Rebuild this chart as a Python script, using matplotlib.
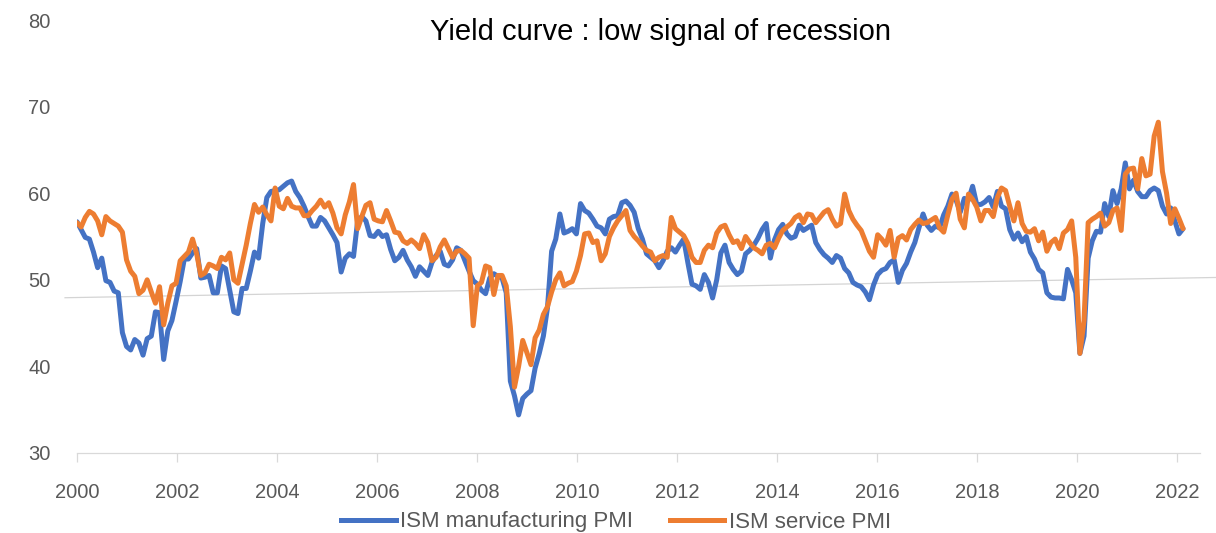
import numpy as np
import matplotlib
matplotlib.use("Agg")
import matplotlib.pyplot as plt
from matplotlib.lines import Line2D

plt.rcParams['font.family'] = ['Liberation Sans', 'DejaVu Sans']

title = "Yield curve : low signal of recession"
series_names = ["ISM manufacturing PMI", "ISM service PMI"]
year_labels = ["2000", "2002", "2004", "2006", "2008", "2010",
               "2012", "2014", "2016", "2018", "2020", "2022"]
y_ticks = [30, 40, 50, 60, 70, 80]

# Monthly values, Jan 2000 - May 2022
manufacturing = [
    56.7, 55.8, 54.9, 54.7, 53.2, 51.4, 52.5, 49.9, 49.7, 48.7, 48.5, 43.9,  # 2000
    42.3, 41.9, 43.1, 42.7, 41.3, 43.2, 43.5, 46.3, 46.2, 40.8, 44.1, 45.3,  # 2001
    47.5, 49.8, 52.4, 52.4, 53.1, 53.6, 50.2, 50.3, 50.5, 48.5, 48.5, 51.6,  # 2002
    51.3, 48.8, 46.3, 46.1, 49.0, 49.0, 51.0, 53.2, 52.5, 56.5, 59.5, 60.2,  # 2003
    60.3, 60.4, 60.8, 61.2, 61.4, 60.2, 59.5, 58.5, 57.3, 56.2, 56.2, 57.2,  # 2004
    56.8, 56.0, 55.2, 54.3, 50.9, 52.5, 53.0, 52.7, 56.8, 57.3, 56.8, 55.1,  # 2005
    55.0, 55.6, 55.0, 55.2, 53.5, 52.2, 52.6, 53.4, 52.3, 51.5, 50.4, 51.5,  # 2006
    51.0, 50.5, 52.0, 52.8, 53.3, 51.8, 51.6, 52.3, 53.7, 53.4, 52.2, 51.0,  # 2007
    49.9, 49.5, 48.8, 48.4, 50.2, 50.7, 50.4, 50.2, 48.5, 38.3, 36.6, 34.4,  # 2008
    36.3, 36.8, 37.2, 39.8, 41.5, 43.5, 46.8, 53.3, 54.7, 57.6, 55.4, 55.6,  # 2009
    55.9, 55.3, 58.8, 58.0, 57.7, 57.0, 56.2, 56.0, 55.3, 57.0, 57.3, 57.4,  # 2010
    58.9, 59.1, 58.6, 57.8, 55.9, 54.7, 53.0, 52.6, 52.2, 51.4, 52.2, 53.3,  # 2011
    53.7, 53.2, 54.0, 54.7, 52.0, 49.5, 49.3, 48.9, 50.6, 49.7, 47.9, 50.0,  # 2012
    53.1, 54.0, 52.0, 51.2, 50.6, 51.0, 53.0, 53.4, 54.0, 54.8, 55.8, 56.5,  # 2013
    52.5, 54.6, 55.8, 56.4, 55.3, 54.8, 55.0, 56.3, 55.7, 56.0, 56.3, 54.3,  # 2014
    53.5, 52.9, 52.5, 52.0, 52.8, 52.5, 51.3, 50.8, 49.7, 49.4, 49.2, 48.6,  # 2015
    47.7, 49.4, 50.6, 51.1, 51.3, 52.0, 52.3, 49.7, 51.1, 51.9, 53.2, 54.3,  # 2016
    56.0, 57.6, 56.3, 55.7, 56.2, 56.0, 57.5, 58.5, 59.9, 59.2, 57.8, 59.4,  # 2017
    59.2, 60.8, 58.7, 58.7, 59.0, 59.5, 58.4, 60.2, 58.5, 58.2, 55.8, 54.7,  # 2018
    55.4, 54.4, 55.0, 53.2, 52.4, 51.2, 50.8, 48.5, 48.0, 47.9, 47.9, 47.8,  # 2019
    51.2, 50.0, 48.5, 41.5, 43.5, 52.5, 54.5, 55.6, 55.5, 58.8, 57.3, 60.3,  # 2020
    58.8, 60.5, 63.5, 60.5, 61.5, 60.2, 59.6, 59.6, 60.3, 60.6, 60.3, 58.5,  # 2021
    57.6, 58.3, 56.8, 55.3, 55.9,                                            # 2022
]

services = [
    56.6, 56.1, 57.2, 57.9, 57.6, 56.8, 55.2, 57.3, 56.8, 56.5, 56.2, 55.5,  # 2000
    52.3, 51.0, 50.4, 48.4, 48.8, 50.0, 48.6, 47.3, 49.2, 44.8, 47.3, 49.3,  # 2001
    49.6, 52.2, 52.7, 53.2, 54.7, 53.0, 50.5, 50.8, 51.8, 51.6, 51.3, 52.6,  # 2002
    52.3, 53.1, 50.0, 49.6, 51.8, 54.0, 56.5, 58.7, 57.8, 58.4, 57.5, 56.8,  # 2003
    60.6, 58.5, 58.2, 59.4, 58.5, 58.3, 58.3, 57.4, 57.4, 58.0, 58.5, 59.2,  # 2004
    58.4, 58.9, 57.7, 56.0, 55.3, 57.5, 59.0, 61.0, 55.9, 57.3, 58.6, 58.9,  # 2005
    57.0, 56.8, 56.7, 58.0, 56.8, 55.5, 55.4, 54.5, 54.2, 54.6, 54.2, 53.6,  # 2006
    55.2, 54.3, 52.2, 52.6, 53.8, 54.6, 53.6, 52.6, 53.3, 53.4, 53.0, 52.5,  # 2007
    44.7, 49.3, 49.7, 51.6, 51.4, 48.3, 50.5, 50.5, 49.3, 44.6, 37.6, 40.0,  # 2008
    43.0, 41.6, 40.2, 43.3, 44.2, 46.0, 46.9, 48.6, 50.0, 50.8, 49.3, 49.6,  # 2009
    49.8, 51.0, 52.8, 55.3, 55.4, 54.3, 54.5, 52.2, 53.0, 55.0, 56.0, 56.8,  # 2010
    57.4, 58.0, 55.7, 55.0, 54.5, 53.9, 53.4, 53.2, 52.2, 52.6, 52.8, 52.6,  # 2011
    57.2, 55.9, 55.5, 55.1, 54.2, 52.6, 52.0, 52.0, 53.4, 54.0, 53.7, 55.4,  # 2012
    56.1, 56.3, 55.2, 54.3, 54.5, 53.6, 55.0, 54.3, 53.7, 53.4, 53.0, 54.0,  # 2013
    54.2, 53.7, 54.8, 55.7, 56.1, 56.5, 57.2, 57.5, 56.6, 57.6, 57.5, 56.6,  # 2014
    57.2, 57.8, 58.1, 57.0, 56.2, 56.5, 59.9, 58.0, 57.0, 56.3, 55.7, 54.5,  # 2015
    53.3, 52.6, 55.2, 54.7, 54.0, 55.7, 52.6, 54.8, 55.1, 54.6, 55.8, 56.4,  # 2016
    56.9, 56.5, 56.6, 56.9, 57.2, 56.0, 55.5, 57.5, 59.3, 60.0, 57.0, 56.0,  # 2017
    59.9, 59.3, 58.4, 56.8, 58.0, 58.0, 57.3, 59.5, 60.6, 60.3, 58.5, 56.8,  # 2018
    58.9, 56.5, 55.6, 55.5, 55.9, 54.5, 55.5, 53.3, 54.3, 54.7, 53.6, 55.4,  # 2019
    55.8, 56.8, 52.6, 41.5, 45.3, 56.6, 57.0, 57.3, 57.7, 56.2, 56.6, 58.0,  # 2020
    58.3, 55.7, 62.2, 62.8, 62.9, 60.5, 64.0, 62.0, 62.2, 66.6, 68.2, 62.5,  # 2021
    60.0, 56.5, 58.2, 57.1, 55.9,                                            # 2022
]

# thin grey reference line (start / end level)
ref_start, ref_end = 47.93, 50.27

BLUE = "#4472C4"
ORANGE = "#ED7D31"
GREY_TXT = "#595959"

W, H = 1216, 533
fig = plt.figure(figsize=(W / 100, H / 100), dpi=100)
ax = fig.add_axes([77 / W, 80 / H, (1200 - 77) / W, (453 - 20) / H])

months = np.arange(len(manufacturing))
months_per_label_year = 12.115  # spacing of the category-axis labels
tick_pos = np.arange(len(year_labels)) * 2 * months_per_label_year

ax.plot([-2.9, 276.0], [ref_start, ref_end], color="#D4D4D4", lw=0.9,
        clip_on=False, zorder=1)
ax.plot(months, manufacturing, color=BLUE, lw=3.6, solid_joinstyle="round",
        solid_capstyle="round", zorder=3)
ax.plot(months, services, color=ORANGE, lw=3.6, solid_joinstyle="round",
        solid_capstyle="round", zorder=4)

ax.set_xlim(0, 272.1)
ax.set_ylim(30, 80)
ax.set_yticks(y_ticks)
ax.set_yticklabels([str(v) for v in y_ticks])
ax.set_xticks(tick_pos)
ax.set_xticklabels(year_labels)

for s in ["top", "right", "left"]:
    ax.spines[s].set_visible(False)
ax.spines["bottom"].set_color("#D9D9D9")
ax.spines["bottom"].set_linewidth(0.9)

ax.tick_params(axis="y", length=0, pad=19, labelsize=14.5, labelcolor=GREY_TXT)
ax.tick_params(axis="x", length=6.5, width=0.9, color="#D9D9D9", pad=15,
               labelsize=14.5, labelcolor=GREY_TXT)

fig.text(661 / W, 1 - 32 / H, title, ha="center", va="center",
         fontsize=21, color="black")

handles = [Line2D([], [], color=BLUE, lw=3.6),
           Line2D([], [], color=ORANGE, lw=3.6)]
fig.legend(handles, series_names, loc="center", bbox_to_anchor=(616 / W, 1 - 522 / H),
           ncol=2, frameon=False, fontsize=16, labelcolor=GREY_TXT,
           handlelength=2.45, handletextpad=0.2, columnspacing=1.65,
           borderpad=0, borderaxespad=0)

fig.savefig("out.png", dpi=100)
